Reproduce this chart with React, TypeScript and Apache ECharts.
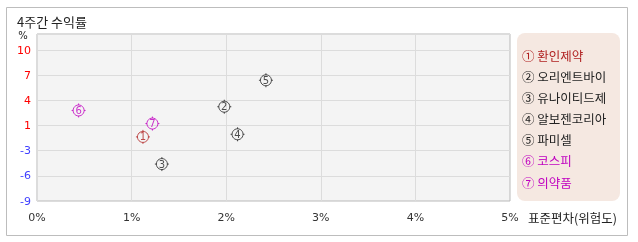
import React, { useEffect, useRef } from "react";
import * as echarts from "echarts";

const names = ["환인제약", "오리엔트바이", "유나이티드제", "알보젠코리아", "파미셀", "코스피", "의약품"];
const markers = ["①", "②", "③", "④", "⑤", "⑥", "⑦"];
const stdDev = [1.12, 1.98, 1.32, 2.12, 2.42, 0.44, 1.22];
const returns4w = [-0.93, 2.87, -4.35, -0.6, 6.2, 2.4, 0.75];
const pointColors = ["#b02020", "#222222", "#222222", "#222222", "#222222", "#c000c0", "#c000c0"];
const yTickLabels = [-9, -6, -3, 1, 4, 7, 10];
const xTickLabels = ["0%", "1%", "2%", "3%", "4%", "5%"];

const FONT = "'Noto Sans CJK KR', 'Noto Sans', sans-serif";
const TICKS = "path://M7,0L7,1.6M7,12.4L7,14M0,7L1.6,7M12.4,7L14,7";

export default function App() {
  const ref = useRef<HTMLDivElement>(null);
  useEffect(() => {
    if (!ref.current) return;
    const chart = echarts.init(ref.current, undefined, { renderer: "svg" });
    const yMin = yTickLabels[0];
    const yTop = yTickLabels[yTickLabels.length - 1];
    const steps = yTickLabels.length - 1;
    const stepVal = (yTop - yMin) / steps;
    const extraSteps = 16 / 25; // space above the top tick
    const dataMax = yTop + stepVal * extraSteps;
    const legendItems: any[] = [];
    names.forEach((n, i) => {
      legendItems.push({
        type: "text",
        x: 522,
        y: 55 + i * 21.17,
        style: {
          text: markers[i] + " " + n,
          fill: pointColors[i],
          font: `12.5px ${FONT}`,
          verticalAlign: "middle",
        },
      });
    });
    const points = names.map((n, i) => ({ n, i, value: [stdDev[i], returns4w[i]] }));
    chart.setOption({
      animation: false,
      textStyle: { fontFamily: FONT },
      grid: {
        left: 37,
        top: 34,
        width: 473,
        height: 167,
        show: true,
        backgroundColor: "#f4f4f4",
        borderColor: "#b8b8b8",
        borderWidth: 1,
        containLabel: false,
      },
      xAxis: {
        type: "value",
        min: 0,
        max: xTickLabels.length - 1,
        interval: 1,
        axisLine: { show: false },
        axisTick: { show: false },
        splitLine: { show: true, lineStyle: { color: "#dcdcdc", width: 1 } },
        axisLabel: {
          formatter: (v: number) => xTickLabels[Math.round(v)] ?? "",
          color: "#333",
          fontSize: 11,
          margin: 11,
          fontFamily: "'DejaVu Sans', sans-serif",
        },
      },
      yAxis: [
        {
          type: "value",
          min: yMin,
          max: dataMax,
          show: false,
          splitLine: { show: false },
        },
        {
          type: "value",
          min: 0,
          max: steps + extraSteps,
          interval: 1,
          position: "left",
          axisLine: { show: false },
          axisTick: { show: false },
          splitLine: { show: true, lineStyle: { color: "#dcdcdc", width: 1 } },
          axisLabel: {
            formatter: (v: number) => {
              const i = Math.round(v);
              if (Math.abs(v - i) > 0.01 || i > steps) return "";
              return String(yTickLabels[i]);
            },
            color: (v: number) => {
              const i = Math.round(v);
              return (yTickLabels[i] ?? 0) > 0 ? "#ff0000" : "#4040ff";
            },
            fontSize: 11,
            margin: 6,
            fontFamily: "'DejaVu Sans', sans-serif",
          },
        },
      ],
      series: [
        {
          type: "scatter",
          yAxisIndex: 0,
          symbol: TICKS,
          symbolSize: 14,
          silent: true,
          data: points.map((p) => ({
            name: p.n,
            value: p.value,
            itemStyle: { color: "rgba(0,0,0,0)", borderColor: pointColors[p.i], borderWidth: 1 },
          })),
        },
        {
          type: "scatter",
          yAxisIndex: 0,
          symbol: "circle",
          symbolSize: 11,
          data: points.map((p) => ({
            name: p.n,
            value: p.value,
            itemStyle: { color: "rgba(0,0,0,0)", borderColor: pointColors[p.i], borderWidth: 1 },
            label: {
              show: true,
              position: "inside",
              formatter: String(p.i + 1),
              color: pointColors[p.i],
              fontSize: 10,
              fontFamily: "'DejaVu Sans', sans-serif",
            },
          })),
        },
      ],
      graphic: [
        {
          type: "rect",
          shape: { x: 6.5, y: 7.5, width: 621, height: 228 },
          style: { fill: "none", stroke: "#bdbdbd", lineWidth: 1 },
          silent: true,
          z: -10,
        },
        {
          type: "text",
          x: 17,
          y: 21,
          style: { text: "4주간 수익률", fill: "#222", font: `13px ${FONT}`, verticalAlign: "middle" },
        },
        {
          type: "text",
          x: 23,
          y: 35,
          style: { text: "%", fill: "#222", font: `10px 'DejaVu Sans', sans-serif`, align: "center", verticalAlign: "middle" },
        },
        {
          type: "text",
          x: 528,
          y: 217,
          style: { text: "표준편차(위험도)", fill: "#222", font: `12.5px ${FONT}`, verticalAlign: "middle" },
        },
        {
          type: "rect",
          shape: { x: 517, y: 33, width: 103, height: 168, r: 8 },
          style: { fill: "#f5e8e1" },
        },
        ...legendItems,
      ],
    });
    return () => chart.dispose();
  }, []);
  return <div ref={ref} style={{ position: "fixed", left: 0, top: 0, width: 638, height: 242 }} />;
}
